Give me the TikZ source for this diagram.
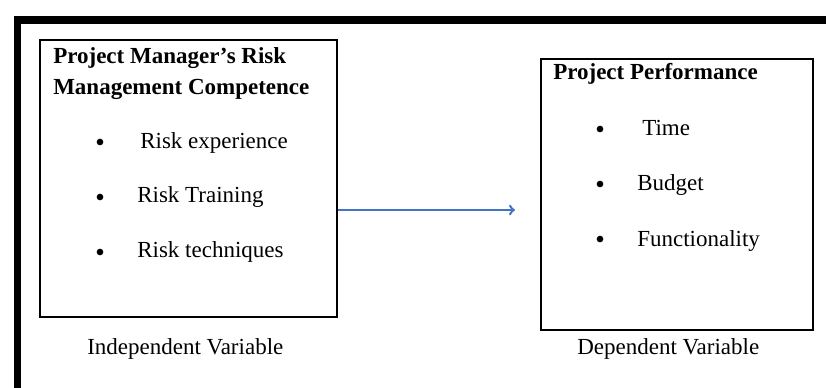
\documentclass[tikz,border=0pt]{standalone}
\usepackage{fontspec}
\setmainfont{Liberation Serif}
\usepackage{color}
\definecolor{myblue}{RGB}{68,114,196}
\usepackage{tikz}
\usetikzlibrary{arrows,positioning}
\tikzstyle{box}=[draw,line width=1.8pt,rectangle,inner sep=0pt]
\tikzstyle{heading}=[anchor=base west,inner sep=0pt,font=\fontsize{17.25}{20}\selectfont\bfseries]
\tikzstyle{entry}=[anchor=base west,inner sep=0pt,font=\fontsize{17.25}{20}\selectfont]
\tikzstyle{dot}=[fill,circle,minimum size=5pt,inner sep=0pt]

\begin{document}
\begin{tikzpicture}[x=0.75pt,y=-0.75pt]
\useasboundingbox (0,0) rectangle (826,387);
% frame
\draw[line width=5.5pt] (17.5,400) -- (17.5,20) -- (840,20);
% boxes
\draw (188.5, 178.5) node [box, minimum width=222.75pt, minimum height=207.75pt] (ivbox) {};
\draw (677, 194.5) node [box, minimum width=204pt, minimum height=203.25pt] (dvbox) {};
% independent side
\draw (53, 63) node [heading] (ivtitle) {Project Manager’s Risk};
\draw (53, 94) node [heading] (ivtitleb) {Management Competence};
\draw (100, 142) node [dot] (ivd1) {};
\draw (100, 197) node [dot] (ivd2) {};
\draw (100, 252) node [dot] (ivd3) {};
\draw (140, 148) node [entry] (iv1) {Risk experience};
\draw (137, 202) node [entry] (iv2) {Risk Training};
\draw (137, 257) node [entry] (iv3) {Risk techniques};
\draw (87, 354) node [entry] (ivlabel) {Independent Variable};
% dependent side
\draw (553, 79) node [heading] (dvtitle) {Project Performance};
\draw (600, 129) node [dot] (dvd1) {};
\draw (600, 184) node [dot] (dvd2) {};
\draw (600, 239) node [dot] (dvd3) {};
\draw (642, 135) node [entry] (dv1) {Time};
\draw (637, 190) node [entry] (dv2) {Budget};
\draw (637, 246) node [entry] (dv3) {Functionality};
\draw (577, 354) node [entry] (dvlabel) {Dependent Variable};
% link
\coordinate (tip) at (515, 210);
\draw[->, myblue, line width=1.8pt] (ivbox.east |- tip) -- (tip);
\end{tikzpicture}
\end{document}
